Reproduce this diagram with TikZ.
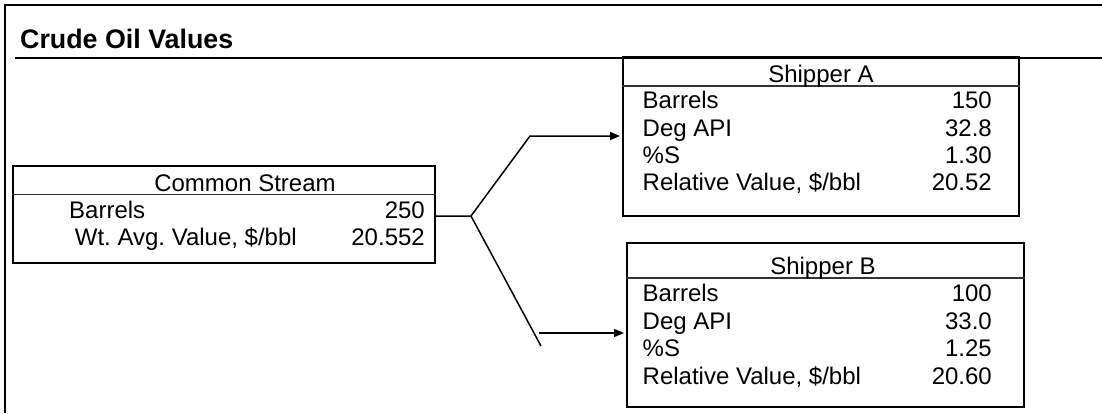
\documentclass[tikz,border=0pt]{standalone}
\usepackage{fontspec}
\setmainfont{Liberation Sans}
\usetikzlibrary{arrows.meta}
\frenchspacing
\tikzset{
  box/.style={draw=black, line width=2.2pt, rectangle, inner sep=0pt, anchor=north west},
  sep/.style={draw=black!80, line width=1.2pt},
  frame/.style={draw=black, line width=2pt},
  conn/.style={draw=black, line width=1.5pt},
  arr/.style={conn, -{Triangle[length=10pt,width=8pt]}, shorten >=2pt},
  lbl/.style={inner sep=0pt, anchor=base west, font=\fontsize{24}{28}\selectfont},
  val/.style={inner sep=0pt, anchor=base east, font=\fontsize{24}{28}\selectfont},
  hdr/.style={inner sep=0pt, anchor=base, font=\fontsize{24}{28}\selectfont},
  ttl/.style={inner sep=0pt, anchor=base west, font=\fontsize{26.8}{30}\selectfont\bfseries}
}
\begin{document}
\begin{tikzpicture}[x=1pt, y=-1pt]
\useasboundingbox (0,0) rectangle (1102,413);
% outer frame and title
\coordinate (ftr) at (1102,5);
\coordinate (ftl) at (5,5);
\coordinate (fbl) at (5,413);
\draw[frame] (ftr) -- (ftl) -- (fbl);
\node[ttl] (title) at (20,48.3) {Crude Oil Values};
\coordinate (ul) at (15,57.5);
\coordinate (ur) at (1102,57.5);
\draw[frame] (ul) -- (ur);

% Common Stream box
\node[box, minimum width=422pt, minimum height=97pt] (cs) at (12,165) {};
\coordinate (csl) at (12,194.5);
\draw[sep] (csl) -- (cs.east |- csl);
\node[hdr] (csh) at (245,191.5) {Common Stream};
\node[lbl] (cs1l) at (69,218.5) {Barrels};
\node[val] (cs1v) at (425,218.5) {250};
\node[lbl] (cs2l) at (68,245) {\ Wt. Avg. Value, \$/bbl};
\node[val] (cs2v) at (425,245) {20.552};

% Shipper A box
\node[box, minimum width=396pt, minimum height=159pt] (sa) at (622,56) {};
\coordinate (sal) at (622,86);
\draw[sep] (sal) -- (sa.east |- sal);
\node[hdr] (sah) at (821,82.5) {Shipper A};
\node[lbl] (sa1l) at (642.5,108) {Barrels};
\node[val] (sa1v) at (992,108) {150};
\node[lbl] (sa2l) at (642.5,136) {Deg API};
\node[val] (sa2v) at (992,136) {32.8};
\node[lbl] (sa3l) at (642.5,163) {\%S};
\node[val] (sa3v) at (992,163) {1.30};
\node[lbl] (sa4l) at (642.5,190) {Relative Value, \$/bbl};
\node[val] (sa4v) at (992,190) {20.52};

% Shipper B box
\node[box, minimum width=397pt, minimum height=164pt] (sb) at (626,242) {};
\coordinate (sbl) at (626,278);
\draw[sep] (sbl) -- (sb.east |- sbl);
\node[hdr] (sbh) at (823,274) {Shipper B};
\node[lbl] (sb1l) at (642.5,301) {Barrels};
\node[val] (sb1v) at (992,301) {100};
\node[lbl] (sb2l) at (642.5,329) {Deg API};
\node[val] (sb2v) at (992,329) {33.0};
\node[lbl] (sb3l) at (642.5,356.5) {\%S};
\node[val] (sb3v) at (992,356.5) {1.25};
\node[lbl] (sb4l) at (642.5,384) {Relative Value, \$/bbl};
\node[val] (sb4v) at (992,384) {20.60};

% connectors
\coordinate (j) at (471,216);
\coordinate (ka) at (530,136);
\coordinate (kb) at (541,346);
\coordinate (stb) at (539,333);
\draw[arr] (cs.east |- j) -- (j) -- (ka) -- (sa.west |- ka);
\draw[conn] (j) -- (kb);
\draw[arr] (stb) -- (sb.west |- stb);
\end{tikzpicture}
\end{document}
